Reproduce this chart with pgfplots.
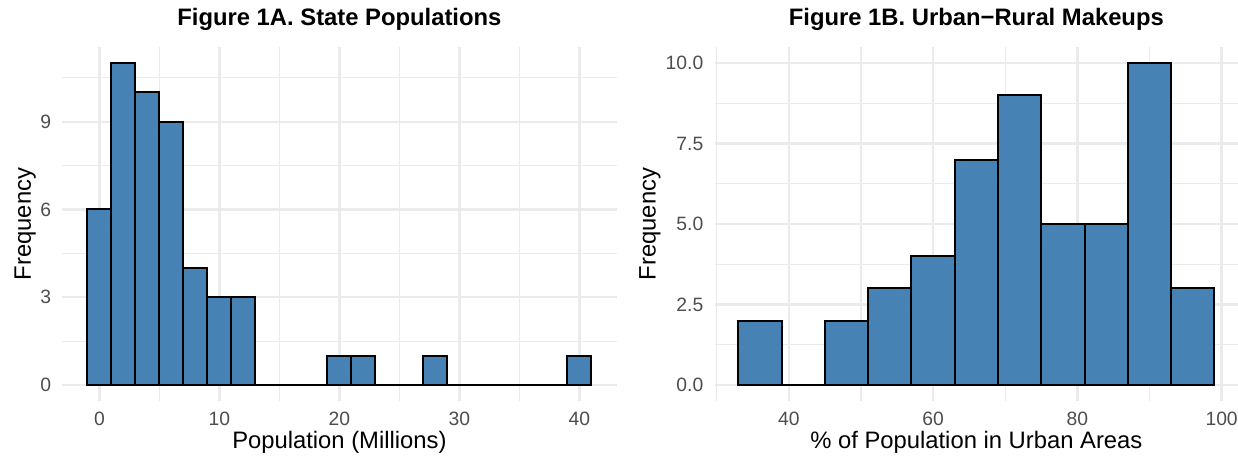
\documentclass[border=0pt]{standalone}
\usepackage{pgfplots}
\pgfplotsset{compat=1.18}
\usepackage{fontspec}
\setmainfont{Liberation Sans}
\definecolor{steelblue}{RGB}{70,130,180}
\definecolor{grid92}{RGB}{235,235,235}
\definecolor{grey30}{RGB}{77,77,77}
\pgfplotsset{
 ggstyle/.style={
  scale only axis, height=354pt, anchor=south west,
  axis line style={draw=none},
  major tick length=0pt, minor tick length=0pt,
  grid=both,
  major grid style={line width=2.4pt, color=grid92},
  minor grid style={line width=1.2pt, color=grid92},
  /pgf/number format/assume math mode=true,
  tick label style={font=\fontsize{19.3}{23}\selectfont, color=grey30, inner sep=0pt},
  xticklabel style={yshift=-11pt},
  yticklabel style={xshift=-11pt},
  label style={font=\fontsize{23.8}{28}\selectfont},
  xlabel style={at={(axis description cs:0.5,0)}, anchor=base, yshift=-47.5pt},
  title style={at={(axis description cs:0.5,1)}, anchor=base, yshift=16pt, font=\bfseries\fontsize{23.8}{28}\selectfont},
 },
 histbar/.style={ybar interval, fill=steelblue, draw=black, line width=2pt}
}
\begin{document}
\begin{tikzpicture}
\useasboundingbox (0,0) rectangle (1238pt,455pt);
\begin{axis}[ggstyle,
  width=554.4pt, at={(62.2pt,53.9pt)},
  xmin=-3.1, xmax=43.1, ymin=-0.55, ymax=11.55,
  xtick={0,10,20,30,40}, ytick={0,3,6,9},
  minor xtick={5,15,25,35}, minor ytick={1.5,4.5,7.5,10.5},
  xlabel={Population (Millions)}, ylabel={Frequency},
  ylabel style={at={(axis description cs:-0.0563,0.5)}, anchor=base},
  title={Figure 1A. State Populations}]
\addplot[histbar] coordinates {(-1,6) (1,11) (3,10) (5,9) (7,4) (9,3) (11,3) (13,0) (15,0) (17,0) (19,1) (21,1) (23,0) (25,0) (27,1) (29,0) (31,0) (33,0) (35,0) (37,0) (39,1) (41,0)};
\end{axis}
\begin{axis}[ggstyle,
  width=523.7pt, at={(714.5pt,53.9pt)},
  xmin=29.7, xmax=102.3, ymin=-0.5, ymax=10.5,
  xtick={40,60,80,100}, ytick={0,2.5,5,7.5,10},
  minor xtick={30,50,70,90}, minor ytick={1.25,3.75,6.25,8.75},
  yticklabel style={/pgf/number format/.cd, fixed, fixed zerofill, precision=1},
  xlabel={\% of Population in Urban Areas}, ylabel={Frequency},
  ylabel style={at={(axis description cs:-0.1125,0.5)}, anchor=base},
  title={Figure 1B. Urban−Rural Makeups}]
\addplot[histbar] coordinates {(33,2) (39,0) (45,2) (51,3) (57,4) (63,7) (69,9) (75,5) (81,5) (87,10) (93,3) (99,0)};
\end{axis}
\end{tikzpicture}
\end{document}
